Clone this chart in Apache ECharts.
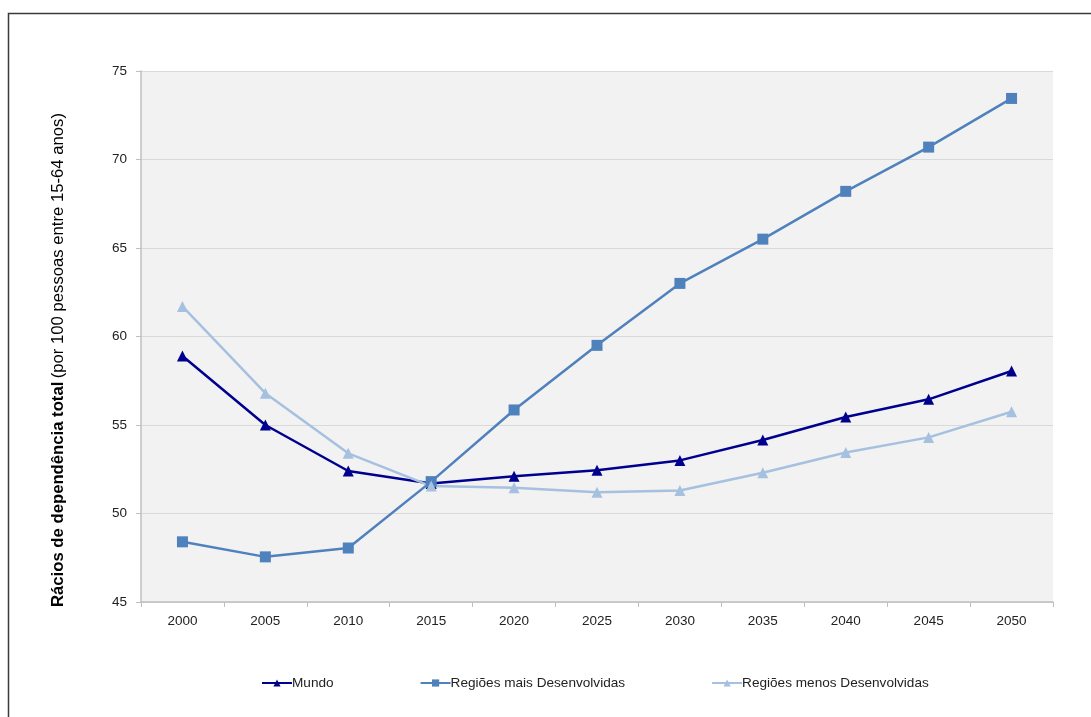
<!DOCTYPE html>
<html>
<head>
<meta charset="utf-8">
<script src="https://cdn.jsdelivr.net/npm/echarts@6/dist/echarts.min.js"></script>
<style>
  html, body { margin: 0; padding: 0; background: #ffffff; }
  #chart { width: 1091px; height: 717px; }
</style>
</head>
<body>
<div id="chart"></div>
<script>
// Total dependency ratio (per 100 people aged 15-64), 2000–2050
const years = ['2000', '2005', '2010', '2015', '2020', '2025', '2030', '2035', '2040', '2045', '2050'];
const mundo = [58.9, 55.0, 52.4, 51.7, 52.1, 52.45, 53.0, 54.15, 55.45, 56.45, 58.05];
const maisDesenvolvidas = [48.4, 47.55, 48.05, 51.8, 55.85, 59.5, 63.0, 65.5, 68.2, 70.7, 73.45];
const menosDesenvolvidas = [61.7, 56.8, 53.4, 51.55, 51.45, 51.2, 51.3, 52.3, 53.45, 54.3, 55.75];
const yTicks = { min: 45, max: 75, interval: 5 };

const FONT = '"Liberation Sans", Arial, sans-serif';

const chart = echarts.init(document.getElementById('chart'), null, { renderer: 'canvas' });

function lineSeries(name, data, color, symbol, size) {
  return {
    name: name,
    type: 'line',
    data: data,
    symbol: symbol,
    symbolSize: size,
    showSymbol: true,
    lineStyle: { color: color, width: 2.5 },
    itemStyle: { color: color },
    emphasis: { disabled: true },
    animation: false
  };
}

chart.setOption({
  backgroundColor: '#ffffff',
  textStyle: { fontFamily: FONT },
  graphic: [
    {
      type: 'rect',
      shape: { x: 8.5, y: 13.5, width: 1200, height: 800 },
      style: { fill: 'none', stroke: '#3a3a3a', lineWidth: 1.5 },
      silent: true
    },
    {
      type: 'text',
      x: 58,
      y: 360,
      rotation: Math.PI / 2,
      style: {
        text: '{b|Rácios de dependência total} {n|(por 100 pessoas entre 15-64 anos)}',
        align: 'center',
        verticalAlign: 'middle',
        fill: '#000000',
        rich: {
          b: { fontFamily: FONT, fontSize: 16.7, fontWeight: 'bold', fill: '#000000' },
          n: { fontFamily: FONT, fontSize: 16.7, fill: '#000000' }
        }
      },
      silent: true
    }
  ],
  grid: {
    left: 141,
    right: 38,
    top: 71,
    bottom: 115,
    show: true,
    backgroundColor: '#F2F2F2',
    borderWidth: 0
  },
  legend: {
    bottom: 22,
    left: 256,
    itemGap: 86,
    itemWidth: 30,
    itemHeight: 9,
    textStyle: { fontFamily: FONT, fontSize: 13.6, color: '#222222', padding: [0, 0, 0, -5] },
    data: ['Mundo', 'Regiões mais Desenvolvidas', 'Regiões menos Desenvolvidas']
  },
  xAxis: {
    type: 'category',
    data: years,
    boundaryGap: true,
    axisLine: { show: true, lineStyle: { color: '#BFBFBF', width: 1.5 } },
    axisTick: { show: true, length: 5, lineStyle: { color: '#BFBFBF' } },
    axisLabel: { color: '#222222', fontFamily: FONT, fontSize: 13.5, margin: 12 },
    splitLine: { show: false }
  },
  yAxis: {
    type: 'value',
    min: yTicks.min,
    max: yTicks.max,
    interval: yTicks.interval,
    axisLine: { show: true, lineStyle: { color: '#BFBFBF', width: 1.5 } },
    axisTick: { show: true, length: 5, lineStyle: { color: '#BFBFBF' } },
    axisLabel: { color: '#222222', fontFamily: FONT, fontSize: 13.5, margin: 14 },
    splitLine: { show: true, lineStyle: { color: '#D9D9D9', width: 1.2 } }
  },
  series: [
    lineSeries('Mundo', mundo, '#00008F', 'triangle', 11),
    lineSeries('Regiões mais Desenvolvidas', maisDesenvolvidas, '#4F81BD', 'rect', 11),
    lineSeries('Regiões menos Desenvolvidas', menosDesenvolvidas, '#A6C0E0', 'triangle', 11)
  ]
});
</script>
</body>
</html>
